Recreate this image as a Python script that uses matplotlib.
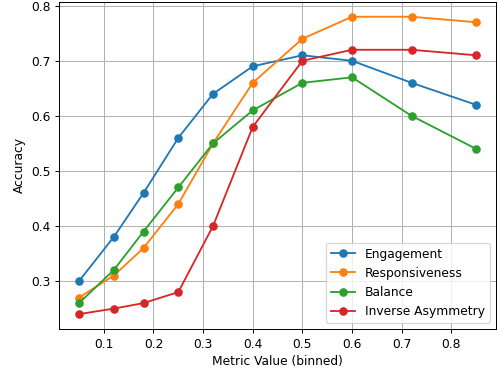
import matplotlib
matplotlib.use("Agg")
import matplotlib.pyplot as plt

# binned metric values
bins = [0.05, 0.12, 0.18, 0.25, 0.32, 0.40, 0.50, 0.60, 0.72, 0.85]

engagement = [0.30, 0.38, 0.46, 0.56, 0.64, 0.69, 0.71, 0.70, 0.66, 0.62]
responsiveness = [0.27, 0.31, 0.36, 0.44, 0.55, 0.66, 0.74, 0.78, 0.78, 0.77]
balance = [0.26, 0.32, 0.39, 0.47, 0.55, 0.61, 0.66, 0.67, 0.60, 0.54]
inv_asym = [0.24, 0.25, 0.26, 0.28, 0.40, 0.58, 0.70, 0.72, 0.72, 0.71]

# drawn at a lower dpi so text and markers come out a bit smaller
fig = plt.figure(figsize=(497 / 88, 373 / 88), dpi=88)
ax = fig.add_axes([0.119, 0.118, 0.879, 0.877])

ax.plot(bins, engagement, marker='o', label='Engagement')
ax.plot(bins, responsiveness, marker='o', label='Responsiveness')
ax.plot(bins, balance, marker='o', label='Balance')
ax.plot(bins, inv_asym, marker='o', label='Inverse Asymmetry')

ax.set_xlabel("Metric Value (binned)")
ax.set_ylabel("Accuracy")
ax.grid(True)
ax.legend(loc='lower right')

fig.savefig("out.png", dpi=88)
